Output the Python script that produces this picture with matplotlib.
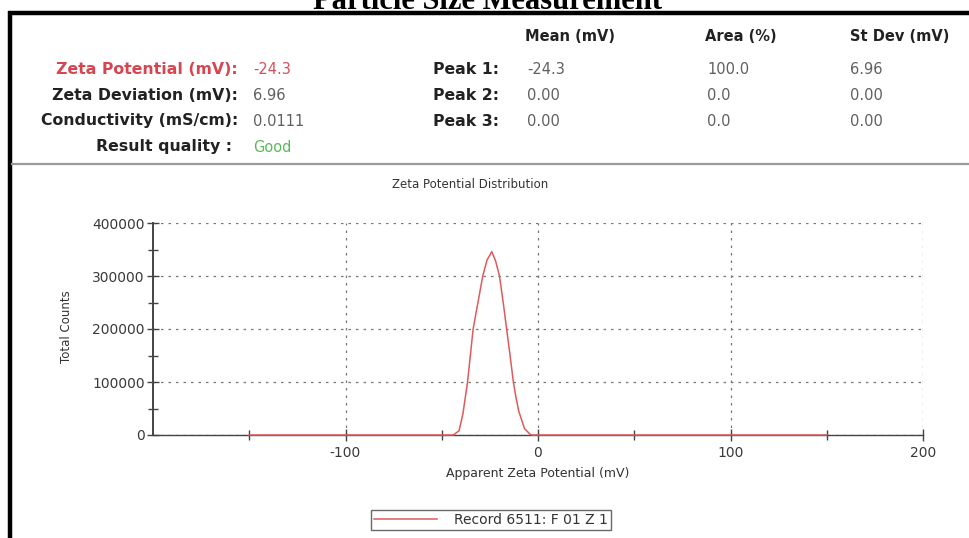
import matplotlib
matplotlib.use("Agg")
import matplotlib.pyplot as plt
from matplotlib.lines import Line2D
from matplotlib.ticker import MultipleLocator, FixedLocator

plt.rcParams["axes.unicode_minus"] = False

# ---------------- data ----------------
summary_labels = ["Zeta Potential (mV):", "Zeta Deviation (mV):", "Conductivity (mS/cm):", "Result quality :"]
summary_values = ["-24.3", "6.96", "0.0111", "Good"]
peak_labels = ["Peak 1:", "Peak 2:", "Peak 3:"]
peak_columns = ["Mean (mV)", "Area (%)", "St Dev (mV)"]
peak_mean = ["-24.3", "0.00", "0.00"]
peak_area = ["100.0", "0.0", "0.0"]
peak_stdev = ["6.96", "0.00", "0.00"]

zeta_mv = [-150, -44, -41, -39, -36.6, -35, -33.7, -31, -28.7, -26.5, -24,
           -22, -20, -18, -16.3, -14.5, -12.8, -11.5, -10, -7, -4, -3, 150]
total_counts = [0, 0, 8000, 40000, 100000, 155000, 200000, 254000, 300000, 330000, 346000,
                328000, 300000, 248000, 200000, 150000, 100000, 72000, 45000, 12000, 1000, 0, 0]

x_ticks = [-100, 0, 100, 200]
x_minor = [-150, -50, 50, 150]
y_ticks = [0, 100000, 200000, 300000, 400000]
legend_label = "Record 6511: F 01 Z 1"

# ---------------- figure ----------------
W, H = 969, 538
fig = plt.figure(figsize=(W / 100, H / 100), dpi=100)
fig.patch.set_facecolor("white")


def P(x, y):
    return x / W, 1 - y / H


# Title (partly cut at top, as in the reference)
fig.text(*P(488, 9), "Particle Size Measurement", family="Liberation Serif",
         weight="bold", fontsize=22, ha="center", va="baseline", color="black")

# Frame lines
fig.add_artist(Line2D([8 / W, 1], [1 - 13 / H, 1 - 13 / H], color="black", lw=3.2,
                      transform=fig.transFigure, solid_capstyle="butt"))
fig.add_artist(Line2D([10 / W, 10 / W], [1 - 11 / H, 0], color="black", lw=3.2,
                      transform=fig.transFigure, solid_capstyle="butt"))
fig.add_artist(Line2D([12 / W, 1], [1 - 164 / H, 1 - 164 / H], color="#9a9a9a", lw=1.6,
                      transform=fig.transFigure))

label_font = dict(family="DejaVu Sans", weight="bold", fontsize=11.3)
value_font = dict(family="DejaVu Sans", fontsize=10.5)

rows_y = [69, 95, 121, 147]
label_colors = ["#d64550", "#222222", "#222222", "#222222"]
value_colors = ["#d6505a", "#606060", "#606060", "#5cb85c"]
for lab, val, y, lc, vc in zip(summary_labels, summary_values, rows_y, label_colors, value_colors):
    rx = 238 if not lab.startswith("Result") else 232
    fig.text(*P(rx, y), lab, ha="right", va="center", color=lc, **label_font)
    fig.text(*P(253, y), val, ha="left", va="center", color=vc, **value_font)

header_x = [525, 705, 850]
header_font = dict(family="DejaVu Sans", weight="bold", fontsize=10.5)
for hx, hl in zip(header_x, peak_columns):
    fig.text(*P(hx, 37), hl, ha="left", va="center", color="#222222", **header_font)

for i, pl in enumerate(peak_labels):
    y = rows_y[i]
    fig.text(*P(433, y), pl, ha="left", va="center", color="#222222", **label_font)
    fig.text(*P(527, y), peak_mean[i], ha="left", va="center", color="#606060", **value_font)
    fig.text(*P(707, y), peak_area[i], ha="left", va="center", color="#606060", **value_font)
    fig.text(*P(850, y), peak_stdev[i], ha="left", va="center", color="#606060", **value_font)

# ---------------- plot ----------------
ax_l, ax_r, ax_t, ax_b = 153, 923, 223, 435
ax = fig.add_axes([ax_l / W, 1 - ax_b / H, (ax_r - ax_l) / W, (ax_b - ax_t) / H])
ax.set_xlim(-200, 200)
ax.set_ylim(0, 400000)

ax.plot(zeta_mv, total_counts, color="#e05a5a", lw=1.1, zorder=5, clip_on=False,
        label=legend_label)

ax.xaxis.set_major_locator(FixedLocator(x_ticks))
ax.xaxis.set_minor_locator(FixedLocator(x_minor))
ax.yaxis.set_major_locator(FixedLocator(y_ticks))
ax.yaxis.set_minor_locator(MultipleLocator(50000))

ax.grid(True, which="major", color="#777777", linestyle=(0, (2, 4)), lw=0.9)
for s in ["top", "right"]:
    ax.spines[s].set_visible(False)
ax.spines["left"].set_color("#444444")
ax.spines["left"].set_linewidth(1.4)
ax.spines["bottom"].set_color("#444444")
ax.spines["bottom"].set_linewidth(1.0)

ax.tick_params(axis="both", which="major", direction="inout", length=8, width=1,
               color="#444444", labelsize=10, labelcolor="#3a3a3a")
ax.tick_params(axis="both", which="minor", direction="inout", length=7, width=1,
               color="#444444")
ax.tick_params(axis="x", pad=4)
ax.tick_params(axis="y", pad=2)

fig.text(*P(470, 185), "Zeta Potential Distribution", fontsize=8.5, color="#333333",
         ha="center", va="center")
fig.text(*P(67, 327), "Total Counts", fontsize=8.5, color="#333333", rotation=90,
         ha="center", va="center")
ax.set_xlabel("Apparent Zeta Potential (mV)", fontsize=9, color="#333333", labelpad=5)

leg = ax.legend(loc="center", bbox_to_anchor=((491 - ax_l) / (ax_r - ax_l),
                                               -(520 - ax_b) / (ax_b - ax_t)),
                frameon=True, fancybox=False, fontsize=10, handlelength=4.5,
                borderpad=0.25, handletextpad=1.2, borderaxespad=0)
leg.get_frame().set_edgecolor("#444444")
leg.get_frame().set_linewidth(1.0)
for t in leg.get_texts():
    t.set_color("#333333")

fig.savefig("out.png", dpi=100, facecolor="white")
